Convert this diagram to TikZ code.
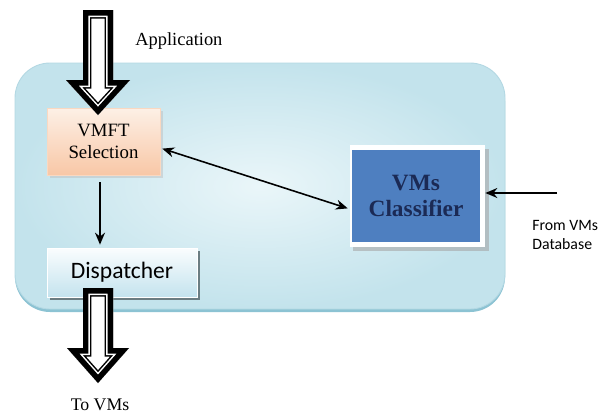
\documentclass[tikz,border=0pt]{standalone}
\usepackage{fontspec}
\setmainfont{Liberation Serif}
\newfontfamily\calib{Carlito}
\usetikzlibrary{arrows.meta,calc}
\definecolor{boxedge}{HTML}{B3D8E3}
\definecolor{boxin}{HTML}{EAF6F9}
\definecolor{boxout}{HTML}{C3E3EC}
\definecolor{boxbot}{HTML}{8CC3D3}
\definecolor{peachtop}{HTML}{FDF0E6}
\definecolor{peachbot}{HTML}{F8C7A6}
\definecolor{disptop}{HTML}{FAFDFE}
\definecolor{dispbot}{HTML}{C4E3EE}
\definecolor{clsblue}{HTML}{4E7FC0}
\definecolor{clstext}{HTML}{1B2A55}
\tikzset{
  x=0.02cm, y=-0.02cm,
  conn/.style={line width=0.9pt, draw=black},
  tip/.style={-{Stealth[length=0.24cm,width=0.2cm]}},
  bitip/.style={{Stealth[length=0.24cm,width=0.2cm]}-{Stealth[length=0.24cm,width=0.2cm]}},
  lbl/.style={inner sep=0pt, align=center},
}
\newcommand{\hollowarrowpath}[6]{% cx, top, half shaft, head base, half head, tip
  (#1-#3,#2) -- (#1+#3,#2) -- (#1+#3,#4) -- (#1+#5,#4) -- (#1,#6) -- (#1-#5,#4) -- (#1-#3,#4) -- cycle}
\newcommand{\hollowarrow}[6]{%
  \begin{scope}
    \clip \hollowarrowpath{#1}{#2}{#3}{#4}{#5}{#6};
    \fill[white] \hollowarrowpath{#1}{#2}{#3}{#4}{#5}{#6};
    \draw[black, line width=0.34cm, line join=miter] \hollowarrowpath{#1}{#2}{#3}{#4}{#5}{#6};
    \draw[white, line width=0.28cm, line join=miter] \hollowarrowpath{#1}{#2}{#3}{#4}{#5}{#6};
    \draw[black, line width=0.22cm, line join=miter] \hollowarrowpath{#1}{#2}{#3}{#4}{#5}{#6};
  \end{scope}}
\begin{document}
\begin{tikzpicture}
\useasboundingbox (0,0) rectangle (602,416);
\fill[white] (0,0) rectangle (602,416);
% big rounded container
\fill[boxbot, rounded corners=0.7cm] (15,66) rectangle (505,312);
\shade[inner color=boxin, outer color=boxout, rounded corners=0.7cm]
  (15,63) rectangle (505,309);
\draw[boxedge, line width=0.5pt, rounded corners=0.7cm] (15,63) rectangle (505,309);

% VMFT Selection
\fill[black!25, opacity=0.5] (50,111) rectangle (163,178);
\node[lbl, minimum width=2.26cm, minimum height=1.34cm, top color=peachtop, bottom color=peachbot,
      draw=peachbot!70!white, line width=0.4pt, font=\fontsize{10.7}{12.5}\selectfont]
  (vmft) at (103.5,141.5) {VMFT\\Selection};

% Dispatcher
\fill[black!45!boxout] (50,251) rectangle (200,300);
\node[lbl, minimum width=3.0cm, minimum height=0.98cm, top color=disptop, bottom color=dispbot,
      draw=white, line width=0.4pt, font=\calib\fontsize{13.4}{15}\selectfont]
  (disp) at (122,272.5) {Dispatcher};

% VMs Classifier
\fill[black!35, opacity=0.6] (353,149) rectangle (489,251);
\node[minimum width=2.7cm, minimum height=2.04cm, fill=white!96!boxin, inner sep=0pt]
  (clsframe) at (417.5,196) {};
\node[lbl, minimum width=2.56cm, minimum height=1.86cm, fill=clsblue, text=clstext,
      font=\bfseries\fontsize{13.3}{15}\selectfont]
  (cls) at (416,196) {VMs\\Classifier};

% hollow arrows
\hollowarrow{98}{10}{15}{80}{32}{115}
\hollowarrow{98}{288}{15}{348}{31}{383}

% labels
\node[lbl, anchor=west, font=\fontsize{10.5}{12}\selectfont] (app) at (135,41) {Application};
\node[lbl, font=\fontsize{10.1}{12}\selectfont] (tovms) at (100,405) {To VMs};
\node[lbl, anchor=west, align=left, font=\calib\fontsize{9}{10.5}\selectfont] (fromdb) at (532,235) {From VMs\\Database};
\coordinate (dbsrc) at (557,193);

% connectors
\draw[conn, tip, shorten <=0.14cm, shorten >=0.06cm] ([xshift=-0.07cm]vmft.south) -- ([xshift=-0.07cm]vmft.south |- disp.north);
\draw[conn, bitip, shorten <=0.04cm, shorten >=0.04cm] ([yshift=-0.13cm]vmft.east) -- ([yshift=-0.26cm]clsframe.west);
\draw[conn, tip] (dbsrc) -- (dbsrc -| clsframe.east);
\end{tikzpicture}
\end{document}
